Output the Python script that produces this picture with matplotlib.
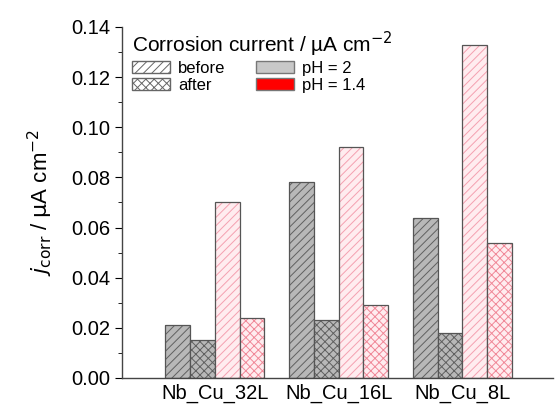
import numpy as np
import matplotlib
matplotlib.use("Agg")
import matplotlib.pyplot as plt
from matplotlib.patches import Patch
from matplotlib.ticker import MultipleLocator, FormatStrFormatter

plt.rcParams['font.family'] = ['Liberation Sans', 'DejaVu Sans']
plt.rcParams['hatch.linewidth'] = 0.7

# data
samples = ['Nb_Cu_32L', 'Nb_Cu_16L', 'Nb_Cu_8L']
ph2_before = [0.021, 0.078, 0.064]
ph2_after = [0.015, 0.023, 0.018]
ph14_before = [0.070, 0.092, 0.133]
ph14_after = [0.024, 0.029, 0.054]

fig = plt.figure(figsize=(5.55, 4.07), dpi=100)
ax = fig.add_axes([0.22, 0.0713, 0.776, 0.8624])

x = np.arange(1, len(samples) + 1)
w = 0.2
series = [
    (ph2_before, -1.5, '#b8b8b8', '#606060', '////'),
    (ph2_after, -0.5, '#b8b8b8', '#606060', 'xxxx'),
    (ph14_before, 0.5, '#ffecef', '#f4a0b0', '////'),
    (ph14_after, 1.5, '#ffecef', '#f08898', 'xxxx'),
]
for vals, off, face, hcol, hatch in series:
    # fill + hatch (hatch takes the edgecolor)
    ax.bar(x + off * w, vals, w, color=face, edgecolor=hcol, hatch=hatch,
           linewidth=0)
    # outline
    ax.bar(x + off * w, vals, w, fill=False, edgecolor='#555555', linewidth=0.9)

ax.set_xlim(0.25, 3.73)
ax.set_ylim(0, 0.14)
ax.set_xticks(x)
ax.set_xticklabels(samples, fontsize=14.5)
ax.tick_params(axis='x', length=0, pad=4)
ax.yaxis.set_major_locator(MultipleLocator(0.02))
ax.yaxis.set_minor_locator(MultipleLocator(0.01))
ax.yaxis.set_major_formatter(FormatStrFormatter('%.2f'))
ax.tick_params(axis='y', which='major', length=5, labelsize=14.5, direction='out')
ax.tick_params(axis='y', which='minor', length=3, direction='out')
for s in ['top', 'right']:
    ax.spines[s].set_visible(False)
for s in ['left', 'bottom']:
    ax.spines[s].set_color('#444444')
    ax.spines[s].set_linewidth(1.0)

ax.set_ylabel(r'$j_{\mathrm{corr}}$ / $\mathrm{\mu}$A cm$^{-2}$', fontsize=16, labelpad=12)

handles = [
    Patch(facecolor='white', edgecolor='#666666', hatch='////', label='before'),
    Patch(facecolor='white', edgecolor='#666666', hatch='xxxx', label='after'),
    Patch(facecolor='#c8c8c8', edgecolor='#777777', label='pH = 2'),
    Patch(facecolor='#ff0000', edgecolor='#777777', label='pH = 1.4'),
]
leg = ax.legend(handles=handles, ncol=2, frameon=False, loc='upper left',
                bbox_to_anchor=(-0.005, 1.025), fontsize=12,
                title='Corrosion current / \u00b5A cm$^{-2}$',
                title_fontsize=15, alignment='left',
                handlelength=2.3, handleheight=0.8, columnspacing=1.8,
                labelspacing=0.1, handletextpad=0.5, borderaxespad=0.3)

fig.savefig('out.png', dpi=100)
